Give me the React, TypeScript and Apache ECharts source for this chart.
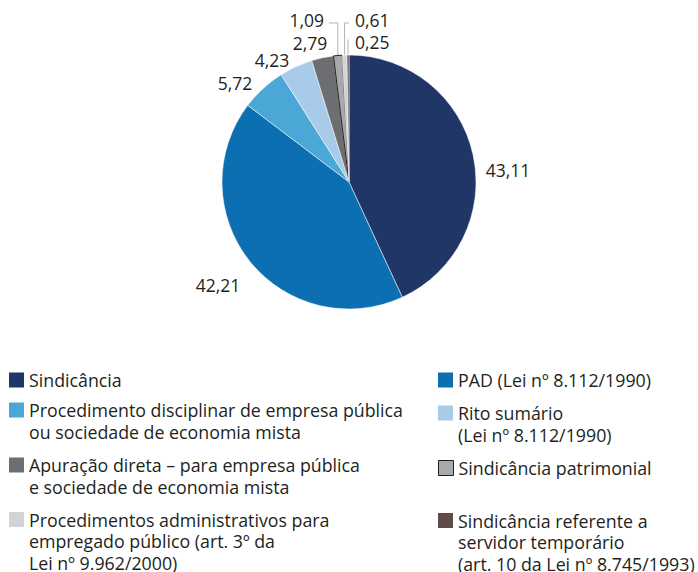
import React, { useEffect, useRef } from "react";
import * as echarts from "echarts";

const CATEGORIES = [
  "Sindicância",
  "PAD (Lei nº 8.112/1990)",
  "Procedimento disciplinar de empresa pública ou sociedade de economia mista",
  "Rito sumário (Lei nº 8.112/1990)",
  "Apuração direta – para empresa pública e sociedade de economia mista",
  "Sindicância patrimonial",
  "Procedimentos administrativos para empregado público (art. 3º da Lei nº 9.962/2000)",
  "Sindicância referente a servidor temporário (art. 10 da Lei nº 8.745/1993)",
];
const VALUES = [43.11, 42.21, 5.72, 4.23, 2.79, 1.09, 0.61, 0.25];
const LEGEND_TEXT = [
  "Sindicância",
  "PAD (Lei nº 8.112/1990)",
  "Procedimento disciplinar de empresa pública\nou sociedade de economia mista",
  "Rito sumário\n(Lei nº 8.112/1990)",
  "Apuração direta – para empresa pública\ne sociedade de economia mista",
  "Sindicância patrimonial",
  "Procedimentos administrativos para\nempregado público (art. 3º da\nLei nº 9.962/2000)",
  "Sindicância referente a\nservidor temporário\n(art. 10 da Lei nº 8.745/1993)",
];
const COLORS = ["#1f3667", "#0b6fb1", "#4aa7d6", "#a8cbea", "#6d6e71", "#a7a9ac", "#d1d3d4", "#5f4b49"];

// layout only (legend placement: left x, first-line center y)
const LEGEND_POS = [
  [9, 380], [438, 380], [9, 410], [438, 413], [9, 465], [438, 468], [9, 519.5], [438, 520.5],
];
// label anchor placement (text positions)
const LABEL_POS: any[] = [
  { x: 508, y: 170, align: "center" },
  { x: 218, y: 285, align: "center" },
  { x: 235, y: 83, align: "center" },
  { x: 272, y: 60, align: "center" },
  { x: 310, y: 43, align: "center" },
  { x: 324, y: 20, align: "right", lineEnd: 329, lineY: 23 },
  { x: 355, y: 20, align: "left", lineEnd: 349, lineY: 23 },
  { x: 355, y: 41.5, align: "left", lineEnd: 349, lineY: 40 },
];

const FONT = "'Open Sans', 'Noto Sans', sans-serif";
const LH = 21.5;
const FS = 17.5;
const LEGEND_FS = 17.8;

export default function App() {
  const ref = useRef<HTMLDivElement>(null);
  useEffect(() => {
    if (!ref.current) return;
    const chart = echarts.init(ref.current, undefined, { renderer: "svg" });
    const legends = CATEGORIES.map((name, i) => {
      const lines = LEGEND_TEXT[i].split("\n");
      const n = lines.length;
      const padded = new Array(n - 1).fill("").concat(lines).join("\n");
      const [left, y] = LEGEND_POS[i];
      return {
        data: [name],
        left,
        top: y - ((2 * n - 1) * LH) / 2,
        orient: "vertical",
        icon: "rect",
        itemWidth: 15,
        itemHeight: 15,
        padding: 0,
        selectedMode: false,
        formatter: () => padded,
        itemStyle:
          i === 5
            ? { borderColor: "#231f20", borderWidth: 1 }
            : { borderWidth: 0 },
        textStyle: {
          fontFamily: FONT,
          fontSize: LEGEND_FS,
          color: "#231f20",
          lineHeight: LH,
        },
      };
    });
    chart.setOption({
      animation: false,
      backgroundColor: "#ffffff",
      legend: legends,
      series: [
        {
          type: "pie",
          center: [349, 182],
          radius: 127,
          startAngle: 90,
          clockwise: true,
          avoidLabelOverlap: false,
          data: CATEGORIES.map((name, i) => ({
            name,
            value: VALUES[i],
            itemStyle:
              i === 5
                ? { color: COLORS[i], borderColor: "#231f20", borderWidth: 1 }
                : { color: COLORS[i], borderColor: "#ffffff", borderWidth: 0.5 },
            labelLine: { show: i >= 5 },
          })),
          label: {
            show: true,
            position: "outside",
            fontFamily: FONT,
            fontSize: FS,
            color: "#231f20",
            formatter: (p: any) => p.value.toFixed(2).replace(".", ","),
          },
          labelLine: {
            show: false,
            length: 20,
            length2: 5,
            lineStyle: { color: "#b1b3b6", width: 1 },
          },
          labelLayout: (p: any) => {
            const pos = LABEL_POS[p.dataIndex];
            const out: any = {
              x: pos.x,
              y: pos.y,
              align: pos.align,
              verticalAlign: "middle",
            };
            if (pos.lineEnd != null && p.labelLinePoints) {
              const p0 = p.labelLinePoints[0];
              out.labelLinePoints = [
                [p0[0], p0[1]],
                [p0[0], pos.lineY],
                [pos.lineEnd, pos.lineY],
              ];
            }
            return out;
          },
        },
      ],
    });
    return () => chart.dispose();
  }, []);
  return (
    <div
      ref={ref}
      style={{ position: "fixed", left: 0, top: 0, width: 698, height: 572, background: "#fff" }}
    />
  );
}
